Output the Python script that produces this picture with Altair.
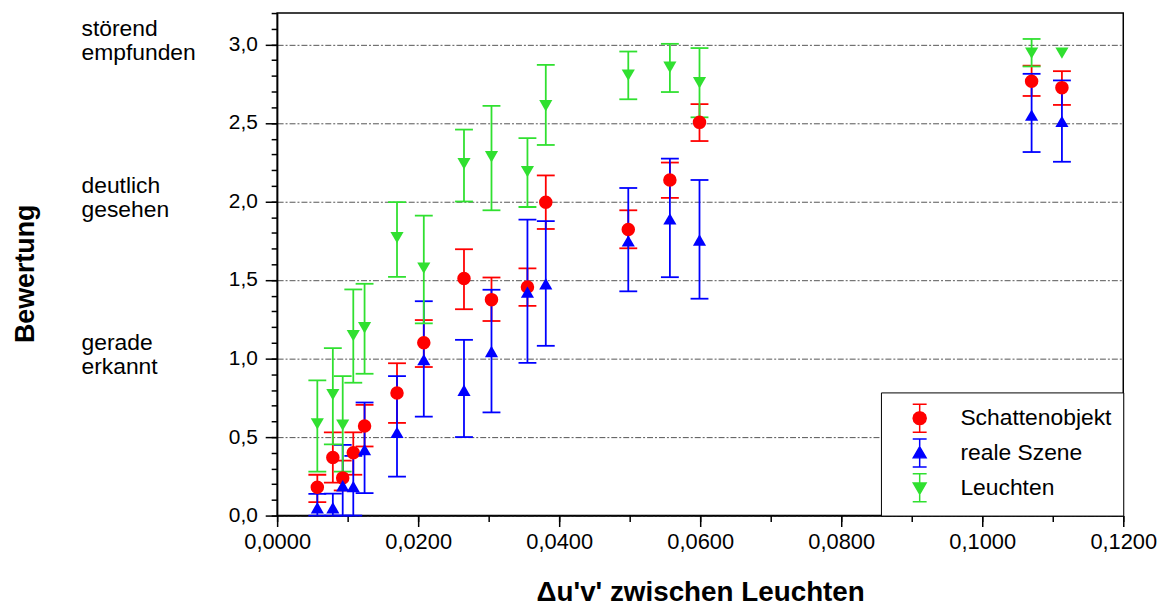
import altair as alt
import pandas as pd

# ---------------- data ----------------
du_v = [0.0057, 0.0079, 0.0093, 0.0108, 0.0124, 0.0170, 0.0208, 0.0265,
        0.0304, 0.0355, 0.0381, 0.0498, 0.0557, 0.0599, 0.1070, 0.1113]

schatten_mean = [0.18, 0.37, 0.24, 0.40, 0.57, 0.78, 1.10, 1.51, 1.375, 1.455, 1.995, 1.822, 2.137, 2.504, 2.766, 2.725]
schatten_lo   = [0.085, 0.21, 0.16, 0.26, 0.44, 0.59, 0.946, 1.314, 1.239, 1.335, 1.825, 1.702, 2.023, 2.385, 2.672, 2.615]
schatten_hi   = [0.26, 0.53, 0.35, 0.53, 0.705, 0.97, 1.245, 1.696, 1.516, 1.574, 2.166, 1.944, 2.248, 2.62, 2.865, 2.83]

szene_mean = [0.05, 0.05, 0.19, 0.185, 0.42, 0.53, 0.993, 0.798, 1.045, 1.423, 1.476, 1.749, 1.889, 1.755, 2.55, 2.51]
szene_lo   = [0.0, 0.0, 0.0, 0.0, 0.143, 0.248, 0.63, 0.50, 0.657, 0.972, 1.081, 1.428, 1.518, 1.381, 2.315, 2.253]
szene_hi   = [0.138, 0.14, 0.45, 0.38, 0.72, 0.888, 1.365, 1.119, 1.438, 1.885, 1.875, 2.086, 2.273, 2.137, 2.813, 2.771]

leuchten_mean = [0.584, 0.77, 0.576, 1.146, 1.196, 1.77, 1.576, 2.24, 2.285, 2.19, 2.61, 2.805, 2.855, 2.756, 2.945, 2.945]
leuchten_lo   = [0.28, 0.453, 0.28, 0.846, 0.903, 1.52, 1.224, 2.0, 1.944, 1.965, 2.36, 2.651, 2.697, 2.536, 2.86, None]
leuchten_hi   = [0.861, 1.066, 0.888, 1.44, 1.476, 1.996, 1.91, 2.458, 2.609, 2.404, 2.87, 2.955, 3.004, 2.977, 3.035, None]

series_names = ["Schattenobjekt", "reale Szene", "Leuchten"]
series_colors = ["#FF0000", "#0000FF", "#30E030"]
series_shapes = ["circle", "triangle-up", "triangle-down"]

# legend glyphs: error bar with caps + marker (unit-square SVG paths)
_cap = "M-0.5,-1L0.5,-1M0,-1L0,1M-0.5,1L0.5,1"
_circ = ("M0.47,0L0.407,0.235L0.235,0.407L0,0.47L-0.235,0.407L-0.407,0.235L-0.47,0"
         "L-0.407,-0.235L-0.235,-0.407L0,-0.47L0.235,-0.407L0.407,-0.235Z")
legend_paths = [
    _cap + _circ,
    _cap + "M0,-0.45L0.46,0.35L-0.46,0.35Z",
    _cap + "M0,0.45L0.46,-0.35L-0.46,-0.35Z",
]

annot_labels = ["störend\nempfunden", "deutlich\ngesehen", "gerade\nerkannt"]
annot_y = [3.0, 2.0, 1.0]

y_major = [0.0, 0.5, 1.0, 1.5, 2.0, 2.5, 3.0]
y_minor = [round(i * 0.1, 1) for i in range(33)]
x_major = [0.0, 0.02, 0.04, 0.06, 0.08, 0.10, 0.12]
x_minor = [round(i * 0.01, 2) for i in range(13)]

# ---------------- tables ----------------
rows = []
for name, means, los, his in [
    (series_names[0], schatten_mean, schatten_lo, schatten_hi),
    (series_names[1], szene_mean, szene_lo, szene_hi),
    (series_names[2], leuchten_mean, leuchten_lo, leuchten_hi),
]:
    for x, m, lo, hi in zip(du_v, means, los, his):
        rows.append({"x": x, "series": name, "mean": m, "lo": lo, "hi": hi})
df = pd.DataFrame(rows)
annot = pd.DataFrame({"label": annot_labels, "y": annot_y})

FONT = "Liberation Sans"
xs = alt.Scale(domain=[0, 0.12], nice=False, zero=False)
ys = alt.Scale(domain=[0, 3.2], nice=False, zero=False)
cs = alt.Scale(domain=series_names, range=series_colors)

x_major_axis = alt.Axis(
    values=x_major, labelExpr="replace(format(datum.value, '.4f'), '.', ',')",
    tickSize=11, tickWidth=1.5, tickColor="black", domainColor="black", domainWidth=1.5,
    labelFontSize=22, labelFont=FONT, labelColor="black", labelPadding=5, labelFlush=False,
    grid=False, title="Δu'v'  zwischen Leuchten", titleFont=FONT, titleFontSize=28,
    titleFontWeight="bold", titleColor="black", titleY=86, titleBaseline="alphabetic",
    orient="bottom",
)
y_major_axis = alt.Axis(
    values=y_major, labelExpr="replace(format(datum.value, '.1f'), '.', ',')",
    tickSize=12, tickWidth=1.5, tickColor="black", domainColor="black", domainWidth=1.5,
    labelFontSize=21, labelFont=FONT, labelColor="black", labelPadding=8,
    grid=True, gridDash=[6, 2, 2, 2], gridColor="#555555", gridWidth=1,
    title="Bewertung", titleFont=FONT, titleFontSize=27, titleFontWeight="bold",
    titleColor="black", titleX=-245, titleY=262, titleBaseline="alphabetic", orient="left",
)
x_minor_axis = alt.Axis(values=x_minor, labels=False, tickSize=6, tickWidth=1.5,
                        tickColor="black", domain=False, grid=False, title=None, orient="bottom")
y_minor_axis = alt.Axis(values=y_minor, labels=False, tickSize=6, tickWidth=1.5,
                        tickColor="black", domain=False, grid=False, title=None, orient="left")

base = alt.Chart(df)

bar_layers = []
point_layers = []
for i, (name, colour, shape) in enumerate(zip(series_names, series_colors, series_shapes)):
    sub = base.transform_filter(alt.datum.series == name)
    rules = sub.transform_filter("isValid(datum.lo) && isValid(datum.hi)").mark_rule(
        strokeWidth=1.8, color=colour
    ).encode(
        x=alt.X("x:Q", scale=xs, axis=x_minor_axis if i == 0 else None),
        y=alt.Y("lo:Q", scale=ys, axis=y_minor_axis if i == 0 else None),
        y2="hi:Q",
    )
    caps = sub.transform_fold(["lo", "hi"], as_=["end", "val"]).transform_filter(
        "isValid(datum.val)"
    ).mark_tick(orient="horizontal", size=18, thickness=1.8, opacity=1, color=colour).encode(
        x=alt.X("x:Q", scale=xs, axis=None),
        y=alt.Y("val:Q", scale=ys, axis=None),
    )
    size = 185 if shape == "circle" else 175
    pts = sub.mark_point(shape=shape, filled=True, size=size, opacity=1, color=colour).encode(
        x=alt.X("x:Q", scale=xs, axis=x_major_axis if i == 0 else None),
        y=alt.Y("mean:Q", scale=ys, axis=y_major_axis if i == 0 else None),
    )
    bar_layers += [rules, caps]
    point_layers.append(pts)

# invisible layer that only feeds the legend (symbols get opacity from config)
legend_layer = base.mark_point(opacity=0, strokeWidth=1.5).encode(
    x=alt.X("x:Q", scale=xs, axis=None),
    y=alt.Y("mean:Q", scale=ys, axis=None),
    fill=alt.Fill("series:N", scale=cs, legend=alt.Legend(title=None)),
    stroke=alt.Stroke("series:N", scale=cs, legend=alt.Legend(title=None)),
    shape=alt.Shape("series:N", scale=alt.Scale(domain=series_names, range=legend_paths),
                    legend=alt.Legend(title=None)),
)

annot_layer = alt.Chart(annot).mark_text(
    align="left", baseline="middle", font=FONT, fontSize=23, lineHeight=25,
    lineBreak="\n", color="black", dy=-16
).encode(
    x=alt.value(-197),
    y=alt.Y("y:Q", scale=ys, axis=None),
    text="label:N",
)

chart = alt.layer(
    *bar_layers, *point_layers, legend_layer, annot_layer
).resolve_axis(
    x="independent", y="independent"
).properties(
    width=852, height=506,
    padding={"left": 4, "top": 2, "right": 5, "bottom": 2},
).configure_view(
    stroke="black", strokeWidth=1.5
).configure_legend(
    orient="bottom-right", offset=0, padding=11, strokeColor="black", fillColor="white",
    symbolSize=784, symbolStrokeWidth=1.5, symbolOpacity=1, labelFontSize=23, labelFont=FONT,
    labelColor="black", labelOffset=26, symbolOffset=13, rowPadding=1,
)

chart.save("out.html", embed_options={"renderer": "svg", "actions": False})
